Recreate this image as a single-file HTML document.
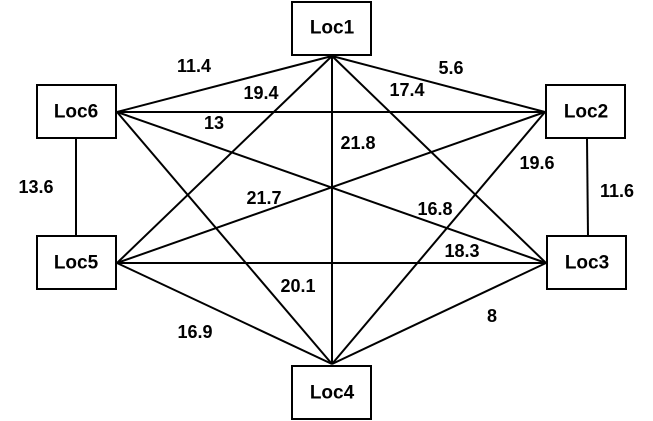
<!DOCTYPE html>
<html><head><meta charset="utf-8"><style>
html,body{margin:0;padding:0;background:#fff;}
svg{display:block;}
text{font-family:"Liberation Sans",sans-serif;font-weight:bold;font-size:18px;fill:#000;}
</style></head><body>
<svg width="653" height="421" viewBox="0 0 653 421" xmlns="http://www.w3.org/2000/svg">
<g stroke="#000" stroke-width="2" fill="none">
<line x1="332" y1="56" x2="117" y2="112"/>
<line x1="332" y1="56" x2="545" y2="112"/>
<line x1="332" y1="56" x2="117" y2="263"/>
<line x1="332" y1="56" x2="546" y2="263"/>
<line x1="332" y1="56" x2="332" y2="364"/>
<line x1="117" y1="112" x2="545" y2="112"/>
<line x1="117" y1="112" x2="546" y2="263"/>
<line x1="117" y1="112" x2="332" y2="364"/>
<line x1="545" y1="112" x2="117" y2="263"/>
<line x1="545" y1="112" x2="332" y2="364"/>
<line x1="117" y1="263" x2="546" y2="263"/>
<line x1="117" y1="263" x2="332" y2="364"/>
<line x1="546" y1="263" x2="332" y2="364"/>
<line x1="76" y1="139" x2="76" y2="236"/>
<line x1="587" y1="139" x2="588" y2="236"/>
</g>
<g stroke="#000" stroke-width="2" fill="#fff">
<rect x="292" y="2" width="79" height="53"/>
<rect x="37" y="85" width="79" height="53"/>
<rect x="546" y="85" width="79" height="53"/>
<rect x="37" y="236" width="79" height="53"/>
<rect x="547" y="236" width="79" height="53"/>
<rect x="292" y="366" width="79" height="53"/>
</g>
<g text-anchor="middle" dominant-baseline="central">
<text x="332" y="28" style="font-size:19px">Loc1</text>
<text x="76" y="112" style="font-size:19px">Loc6</text>
<text x="586" y="112" style="font-size:19px">Loc2</text>
<text x="76" y="263" style="font-size:19px">Loc5</text>
<text x="587" y="263" style="font-size:19px">Loc3</text>
<text x="332" y="393" style="font-size:19px">Loc4</text>
<text x="194" y="66">11.4</text>
<text x="261" y="93">19.4</text>
<text x="451" y="68">5.6</text>
<text x="407" y="90">17.4</text>
<text x="214" y="123">13</text>
<text x="358" y="143">21.8</text>
<text x="537" y="163">19.6</text>
<text x="36" y="187">13.6</text>
<text x="617" y="191">11.6</text>
<text x="264" y="198">21.7</text>
<text x="435" y="209">16.8</text>
<text x="462" y="251">18.3</text>
<text x="298" y="286">20.1</text>
<text x="492" y="316">8</text>
<text x="195" y="332">16.9</text>
</g>
</svg>
</body></html>
